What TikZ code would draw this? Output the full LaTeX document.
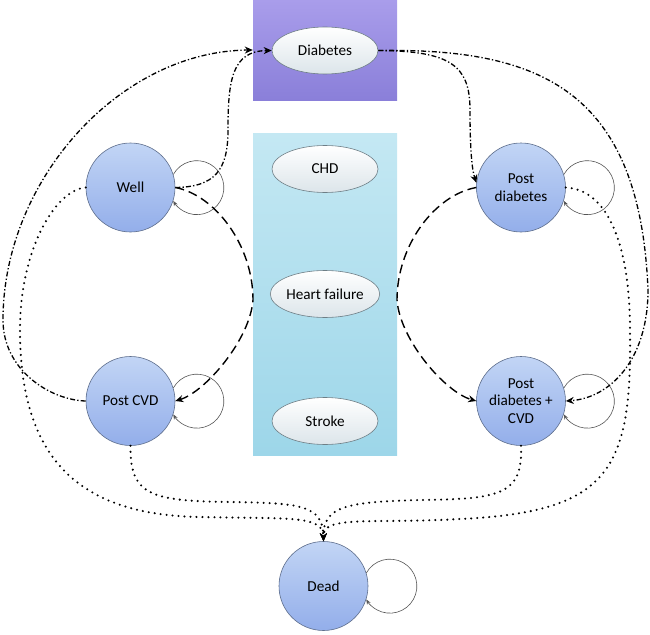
\documentclass[tikz,border=0pt]{standalone}
\usepackage{fontspec}
\setmainfont{Carlito}
\usetikzlibrary{arrows.meta,shapes.geometric}
\begin{document}
\begin{tikzpicture}[x=1pt,y=-1pt,
  state/.style={circle,minimum size=89pt,inner sep=0pt,top color=stTop,bottom color=stBot,draw=stEdge,line width=0.6pt,align=center,font=\fontsize{15.2}{17.8}\selectfont},
  oval/.style={ellipse,minimum width=106pt,minimum height=47pt,inner sep=0pt,top color=white,bottom color=ovBot,draw=ovEdge,line width=0.6pt,font=\fontsize{15.2}{17.8}\selectfont},
  bigarrow/.style={-{Stealth[length=8pt,width=7pt]}},
  dashdot/.style={bigarrow,line width=1.3pt,dash pattern=on 5pt off 2.2pt on 1.3pt off 2.2pt},
  dashline/.style={bigarrow,line width=1.4pt,dash pattern=on 9pt off 5pt},
  dotline/.style={bigarrow,line width=2.3pt,line cap=round,dash pattern=on 0pt off 6pt},
  loopline/.style={-{Stealth[length=5pt,width=4pt]},line width=0.6pt,draw=loopGray}
]
\definecolor{stTop}{HTML}{C2D5F5}
\definecolor{stBot}{HTML}{93AEEA}
\definecolor{stEdge}{HTML}{5E6E8C}
\definecolor{ovBot}{HTML}{DCE5EA}
\definecolor{ovEdge}{HTML}{6E7E86}
\definecolor{loopGray}{HTML}{555555}
\definecolor{purTop}{HTML}{A99DEB}
\definecolor{purBot}{HTML}{8A7FD9}
\definecolor{bluTop}{HTML}{C4E8F3}
\definecolor{bluBot}{HTML}{9DD6E9}
\useasboundingbox (0,0) rectangle (650,634);

% boxes
\node[rectangle,minimum width=144pt,minimum height=100pt,inner sep=0pt,top color=purTop,bottom color=purBot] (diabbox) at (325,50) {};
\node[rectangle,minimum width=144pt,minimum height=322pt,inner sep=0pt,top color=bluTop,bottom color=bluBot] (cvdbox) at (325,294) {};

% ellipses
\node[oval] (diabetes) at (325,50.5) {Diabetes};
\node[oval] (chd) at (325,169) {CHD};
\node[oval] (hf) at (325,294) {Heart failure};
\node[oval] (stroke) at (325,421) {Stroke};

% states
\node[state] (well) at (130.5,187.5) {Well};
\node[state] (pcvd) at (130.5,401) {Post CVD};
\node[state] (pd) at (521,187.5) {Post\\diabetes};
\node[state] (pdcvd) at (521,401) {Post\\diabetes +\\CVD};
\node[state] (dead) at (323.5,586) {Dead};

% self loops
\foreach \n in {well,pcvd,pd,pdcvd,dead}{
  \draw[loopline] (\n.17.3) arc[start angle=150.6,end angle=-150.6,radius=27pt];
}

% dash-dot: to diabetes
\draw[dashdot] (pcvd.west) .. controls (50,400) and (3,370) .. (3,320)
   .. controls (3,180) and (120,51) .. (diabbox.west);
\draw[dashdot] (well.east) .. controls (215,187) and (228,170) .. (228,130)
   .. controls (228,80) and (232,51) .. (diabetes.west);

% dash-dot: from diabetes
\draw[dashdot] (diabetes.east) .. controls (450,51) and (470,65) .. (470,110)
   .. controls (470,150) and (472,170) .. (pd.174);
\draw[dashdot] (diabetes.east) .. controls (540,48) and (640,90) .. (648,290)
   .. controls (648,360) and (610,398) .. (pdcvd.east);

% dashed: CVD events
\draw[dashline] (well.east) .. controls (215,195) and (253,245) .. (253,300)
   .. controls (250,340) and (205,392) .. (pcvd.east);
\draw[dashline] (pd.west) .. controls (435,195) and (397,245) .. (397,300)
   .. controls (400,340) and (445,392) .. (pdcvd.west);

% dotted: to dead
\draw[dotline] (well.west) .. controls (55,190) and (20,250) .. (20,330)
   .. controls (20,460) and (80,515) .. (200,517)
   .. controls (290,519) and (323,515) .. (dead.north);
\draw[dotline] (pcvd.south) .. controls (130,495) and (150,501) .. (230,502)
   .. controls (300,503) and (323,505) .. (dead.north);
\draw[dotline] (pd.east) .. controls (610,190) and (630,250) .. (630,330)
   .. controls (632,470) and (610,512) .. (460,519)
   .. controls (370,524) and (323,515) .. (dead.north);
\draw[dotline] (pdcvd.south) .. controls (523,495) and (500,499) .. (420,500)
   .. controls (350,502) and (323,505) .. (dead.north);
\end{tikzpicture}
\end{document}
